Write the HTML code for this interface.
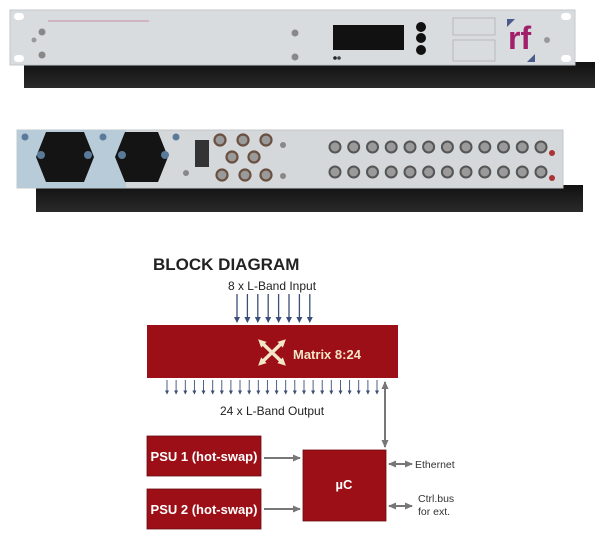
<!DOCTYPE html>
<html><head><meta charset="utf-8"><style>
html,body{margin:0;padding:0;background:#fff;width:600px;height:539px;overflow:hidden}
svg{display:block}
text{font-family:"Liberation Sans",sans-serif}
</style></head><body>
<svg width="600" height="539" viewBox="0 0 600 539" xmlns="http://www.w3.org/2000/svg">
<defs>
<marker id="ab" markerWidth="6" markerHeight="6" refX="5" refY="3" orient="auto" markerUnits="userSpaceOnUse"><path d="M0,0 L6,3 L0,6 z" fill="#3a4f78"/></marker>
<marker id="as" markerWidth="4" markerHeight="4" refX="3.5" refY="2" orient="auto" markerUnits="userSpaceOnUse"><path d="M0,0 L4,2 L0,4 z" fill="#3a4f78"/></marker>
<marker id="ag" markerWidth="8" markerHeight="7" refX="7" refY="3.5" orient="auto-start-reverse" markerUnits="userSpaceOnUse"><path d="M0,0 L8,3.5 L0,7 z" fill="#777"/></marker>
<marker id="ax" markerWidth="8" markerHeight="8" refX="4" refY="4" orient="auto-start-reverse" markerUnits="userSpaceOnUse"><path d="M0,0 L8,4 L0,8 z" fill="#f3e5c8"/></marker>
<linearGradient id="sh" x1="0" y1="0" x2="0" y2="1"><stop offset="0" stop-color="#111"/><stop offset="1" stop-color="#2a2a2a"/></linearGradient>
</defs>
<!-- front unit -->
<rect x="24" y="62" width="571" height="26" fill="url(#sh)"/>
<rect x="10" y="10" width="565" height="55" fill="#d9dcde" stroke="#c4c7c9"/>
<rect x="14" y="13" width="10" height="7" rx="3.5" fill="#fff"/>
<rect x="14" y="55" width="10" height="7" rx="3.5" fill="#fff"/>
<rect x="561" y="13" width="10" height="7" rx="3.5" fill="#fff"/>
<rect x="561" y="55" width="10" height="7" rx="3.5" fill="#fff"/>
<line x1="48" y1="21" x2="149" y2="21" stroke="#b04060" stroke-width="0.6"/>
<circle cx="42" cy="32" r="3.5" fill="#888"/><circle cx="42" cy="55" r="3.5" fill="#888"/>
<circle cx="34" cy="40" r="2.5" fill="#999"/>
<circle cx="295" cy="33" r="3.5" fill="#888"/><circle cx="295" cy="57" r="3.5" fill="#888"/>
<rect x="333" y="25" width="71" height="25" fill="#111"/>
<circle cx="421" cy="27" r="5" fill="#111"/><circle cx="421" cy="38" r="5" fill="#111"/><circle cx="421" cy="50" r="5" fill="#111"/>
<circle cx="335" cy="58" r="1.8" fill="#222"/><circle cx="339" cy="58" r="1.8" fill="#444"/>
<rect x="453" y="18" width="42" height="17" fill="none" stroke="#aaa" stroke-width="0.7"/>
<rect x="453" y="40" width="42" height="21" fill="none" stroke="#aaa" stroke-width="0.7"/>
<polygon points="507,19 515,19 507,27" fill="#4a5a8a"/>
<polygon points="535,62 527,62 535,54" fill="#4a5a8a"/>
<text x="508" y="49" font-size="32" font-weight="bold" fill="#a0206a">rf</text>
<circle cx="547" cy="40" r="3" fill="#999"/>
<!-- rear unit -->
<rect x="36" y="185" width="547" height="27" fill="url(#sh)"/>
<rect x="17" y="130" width="546" height="58" fill="#d5d8da" stroke="#c4c7c9"/>
<rect x="17" y="130" width="109" height="58" fill="#b8cbd8"/>
<polygon points="46,132 84,132 94,157 84,182 46,182 36,157" fill="#141414"/>
<polygon points="125,132 158,132 168,157 158,182 125,182 115,157" fill="#141414"/>
<g fill="#5a7a9a"><circle cx="41" cy="155" r="4"/><circle cx="88" cy="155" r="4"/><circle cx="122" cy="155" r="4"/><circle cx="165" cy="155" r="4"/>
<circle cx="25" cy="137" r="3.5"/><circle cx="103" cy="137" r="3.5"/><circle cx="176" cy="137" r="3.5"/></g>
<rect x="195" y="140" width="14" height="27" fill="#333"/>
<g fill="#888"><circle cx="283" cy="145" r="3"/><circle cx="283" cy="176" r="3"/><circle cx="186" cy="173" r="3"/></g>
<g fill="#9a9a9a" stroke="#6a5040" stroke-width="2.2">
<circle cx="220" cy="140" r="5.5"/><circle cx="243" cy="140" r="5.5"/><circle cx="266" cy="140" r="5.5"/>
<circle cx="232" cy="157" r="5.5"/><circle cx="254" cy="157" r="5.5"/>
<circle cx="222" cy="175" r="5.5"/><circle cx="245" cy="175" r="5.5"/><circle cx="266" cy="175" r="5.5"/>
</g>
<g fill="#9a9a9a" stroke="#555" stroke-width="2">
<circle cx="335" cy="147" r="5.5"/><circle cx="353.7" cy="147" r="5.5"/><circle cx="372.5" cy="147" r="5.5"/><circle cx="391.2" cy="147" r="5.5"/><circle cx="410" cy="147" r="5.5"/><circle cx="428.6" cy="147" r="5.5"/><circle cx="447.4" cy="147" r="5.5"/><circle cx="466" cy="147" r="5.5"/><circle cx="484.8" cy="147" r="5.5"/><circle cx="503.5" cy="147" r="5.5"/><circle cx="522.3" cy="147" r="5.5"/><circle cx="541" cy="147" r="5.5"/>
<circle cx="335" cy="172" r="5.5"/><circle cx="353.7" cy="172" r="5.5"/><circle cx="372.5" cy="172" r="5.5"/><circle cx="391.2" cy="172" r="5.5"/><circle cx="410" cy="172" r="5.5"/><circle cx="428.6" cy="172" r="5.5"/><circle cx="447.4" cy="172" r="5.5"/><circle cx="466" cy="172" r="5.5"/><circle cx="484.8" cy="172" r="5.5"/><circle cx="503.5" cy="172" r="5.5"/><circle cx="522.3" cy="172" r="5.5"/><circle cx="541" cy="172" r="5.5"/>
</g>
<circle cx="552" cy="153" r="3" fill="#a33"/><circle cx="552" cy="178" r="3" fill="#a33"/>
<!-- block diagram -->
<text x="153" y="270" font-size="17" font-weight="bold" fill="#222">BLOCK DIAGRAM</text>
<text x="272" y="290" font-size="12" fill="#222" text-anchor="middle">8 x L-Band Input</text>
<g stroke="#3a4f78" stroke-width="1.3" marker-end="url(#ab)">
<line x1="237" y1="294" x2="237" y2="322"/><line x1="247.4" y1="294" x2="247.4" y2="322"/><line x1="257.8" y1="294" x2="257.8" y2="322"/><line x1="268.2" y1="294" x2="268.2" y2="322"/><line x1="278.6" y1="294" x2="278.6" y2="322"/><line x1="289" y1="294" x2="289" y2="322"/><line x1="299.4" y1="294" x2="299.4" y2="322"/><line x1="309.8" y1="294" x2="309.8" y2="322"/>
</g>
<rect x="147" y="325" width="251" height="53" fill="#9c0f17"/>
<g stroke="#f3e5c8" stroke-width="3.5" marker-start="url(#ax)" marker-end="url(#ax)"><line x1="261" y1="342" x2="283" y2="363"/><line x1="283" y1="342" x2="261" y2="363"/></g>
<text x="293" y="359" font-size="13" font-weight="bold" fill="#f3e5c8">Matrix 8:24</text>
<g stroke="#3a4f78" stroke-width="0.9" marker-end="url(#as)">
<line x1="167" y1="380" x2="167" y2="394"/><line x1="176.1" y1="380" x2="176.1" y2="394"/><line x1="185.3" y1="380" x2="185.3" y2="394"/><line x1="194.4" y1="380" x2="194.4" y2="394"/><line x1="203.5" y1="380" x2="203.5" y2="394"/><line x1="212.7" y1="380" x2="212.7" y2="394"/><line x1="221.8" y1="380" x2="221.8" y2="394"/><line x1="230.9" y1="380" x2="230.9" y2="394"/><line x1="240" y1="380" x2="240" y2="394"/><line x1="249.2" y1="380" x2="249.2" y2="394"/><line x1="258.3" y1="380" x2="258.3" y2="394"/><line x1="267.4" y1="380" x2="267.4" y2="394"/><line x1="276.6" y1="380" x2="276.6" y2="394"/><line x1="285.7" y1="380" x2="285.7" y2="394"/><line x1="294.8" y1="380" x2="294.8" y2="394"/><line x1="304" y1="380" x2="304" y2="394"/><line x1="313.1" y1="380" x2="313.1" y2="394"/><line x1="322.2" y1="380" x2="322.2" y2="394"/><line x1="331.3" y1="380" x2="331.3" y2="394"/><line x1="340.5" y1="380" x2="340.5" y2="394"/><line x1="349.6" y1="380" x2="349.6" y2="394"/><line x1="358.7" y1="380" x2="358.7" y2="394"/><line x1="367.9" y1="380" x2="367.9" y2="394"/><line x1="377" y1="380" x2="377" y2="394"/>
</g>
<text x="272" y="415" font-size="12" fill="#222" text-anchor="middle">24 x L-Band Output</text>
<line x1="385" y1="382" x2="385" y2="447" stroke="#777" stroke-width="2" marker-start="url(#ag)" marker-end="url(#ag)"/>
<rect x="147" y="436" width="114" height="40" fill="#9c0f17" stroke="#6a0a10" stroke-width="0.8"/>
<text x="204" y="461" font-size="13" font-weight="bold" fill="#fff" text-anchor="middle">PSU 1 (hot-swap)</text>
<rect x="147" y="489" width="114" height="40" fill="#9c0f17" stroke="#6a0a10" stroke-width="0.8"/>
<text x="204" y="514" font-size="13" font-weight="bold" fill="#fff" text-anchor="middle">PSU 2 (hot-swap)</text>
<rect x="303" y="450" width="83" height="71" fill="#9c0f17" stroke="#6a0a10" stroke-width="0.8"/>
<text x="344" y="489" font-size="13" font-weight="bold" fill="#fff" text-anchor="middle">µC</text>
<line x1="264" y1="458" x2="300" y2="458" stroke="#777" stroke-width="2" marker-end="url(#ag)"/>
<line x1="264" y1="509" x2="300" y2="509" stroke="#777" stroke-width="2" marker-end="url(#ag)"/>
<line x1="389" y1="464" x2="412" y2="464" stroke="#777" stroke-width="2" marker-start="url(#ag)" marker-end="url(#ag)"/>
<text x="415" y="468" font-size="10.5" fill="#333">Ethernet</text>
<line x1="389" y1="506" x2="412" y2="506" stroke="#777" stroke-width="2" marker-start="url(#ag)" marker-end="url(#ag)"/>
<text x="418" y="502" font-size="10.5" fill="#333">Ctrl.bus</text>
<text x="418" y="515" font-size="10.5" fill="#333">for ext.</text>
</svg>
</body></html>
